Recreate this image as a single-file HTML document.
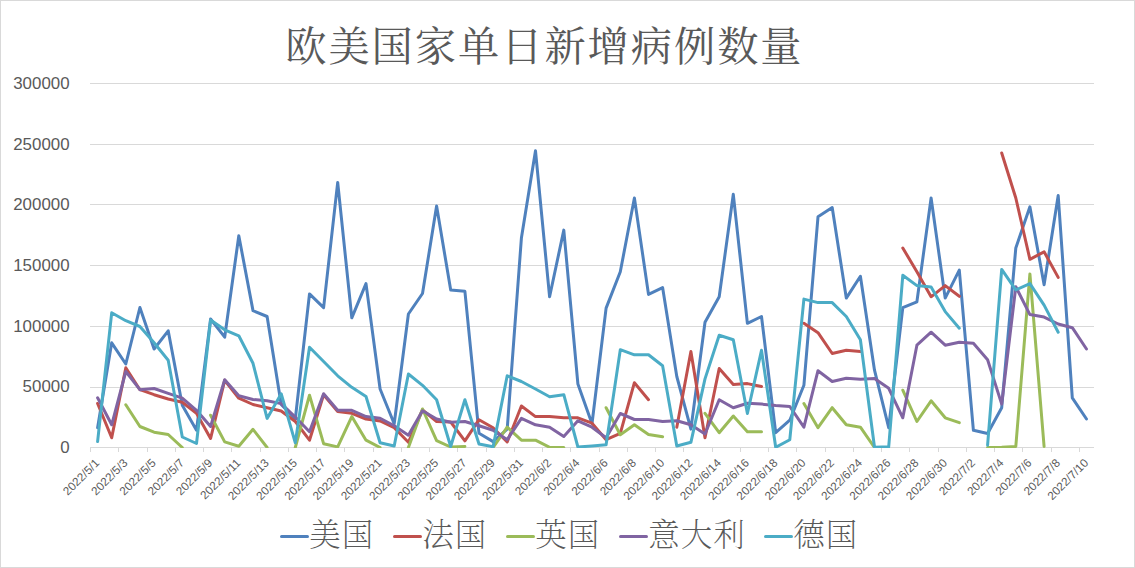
<!DOCTYPE html>
<html lang="zh-CN">
<head>
<meta charset="utf-8">
<title>欧美国家单日新增病例数量</title>
<style>
html,body{margin:0;padding:0;background:#fff;}
body{width:1135px;height:568px;overflow:hidden;}
.chart{position:relative;width:1133px;height:566px;border:1px solid #d9d9d9;background:#fff;}
svg{position:absolute;left:-1px;top:-1px;}
.title{font-family:"Liberation Serif","Noto Serif CJK SC",serif;font-size:41.3px;letter-spacing:1.9px;fill:#595959;font-weight:400;}
.leg{font-family:"Liberation Serif","Noto Serif CJK SC",serif;font-size:31.5px;letter-spacing:1px;fill:#595959;font-weight:200;}
.ylab{font-family:"Liberation Sans",sans-serif;font-size:16.9px;fill:#595959;}
.xlab{font-family:"Liberation Sans",sans-serif;font-size:11.75px;fill:#595959;}
.grid line{stroke:#d9d9d9;stroke-width:1;}
.series path{fill:none;stroke-width:3;stroke-linejoin:round;stroke-linecap:round;}
</style>
</head>
<body>
<div class="chart">
<svg width="1135" height="568" viewBox="0 0 1135 568">
<defs><clipPath id="plot"><rect x="88" y="60" width="1010" height="388"/></clipPath></defs>
<text class="title" x="544.4" y="61" text-anchor="middle">欧美国家单日新增病例数量</text>
<g class="grid">
<line x1="90" y1="83.5" x2="1094" y2="83.5"/>
<line x1="90" y1="144.5" x2="1094" y2="144.5"/>
<line x1="90" y1="204.5" x2="1094" y2="204.5"/>
<line x1="90" y1="265.5" x2="1094" y2="265.5"/>
<line x1="90" y1="326.5" x2="1094" y2="326.5"/>
<line x1="90" y1="387.5" x2="1094" y2="387.5"/>
<line x1="90" y1="447.5" x2="1094" y2="447.5"/>
<line x1="90.5" y1="447.0" x2="90.5" y2="452.0"/>
<line x1="118.5" y1="447.0" x2="118.5" y2="452.0"/>
<line x1="147.5" y1="447.0" x2="147.5" y2="452.0"/>
<line x1="175.5" y1="447.0" x2="175.5" y2="452.0"/>
<line x1="203.5" y1="447.0" x2="203.5" y2="452.0"/>
<line x1="231.5" y1="447.0" x2="231.5" y2="452.0"/>
<line x1="260.5" y1="447.0" x2="260.5" y2="452.0"/>
<line x1="288.5" y1="447.0" x2="288.5" y2="452.0"/>
<line x1="316.5" y1="447.0" x2="316.5" y2="452.0"/>
<line x1="344.5" y1="447.0" x2="344.5" y2="452.0"/>
<line x1="373.5" y1="447.0" x2="373.5" y2="452.0"/>
<line x1="401.5" y1="447.0" x2="401.5" y2="452.0"/>
<line x1="429.5" y1="447.0" x2="429.5" y2="452.0"/>
<line x1="457.5" y1="447.0" x2="457.5" y2="452.0"/>
<line x1="486.5" y1="447.0" x2="486.5" y2="452.0"/>
<line x1="514.5" y1="447.0" x2="514.5" y2="452.0"/>
<line x1="542.5" y1="447.0" x2="542.5" y2="452.0"/>
<line x1="570.5" y1="447.0" x2="570.5" y2="452.0"/>
<line x1="599.5" y1="447.0" x2="599.5" y2="452.0"/>
<line x1="627.5" y1="447.0" x2="627.5" y2="452.0"/>
<line x1="655.5" y1="447.0" x2="655.5" y2="452.0"/>
<line x1="683.5" y1="447.0" x2="683.5" y2="452.0"/>
<line x1="712.5" y1="447.0" x2="712.5" y2="452.0"/>
<line x1="740.5" y1="447.0" x2="740.5" y2="452.0"/>
<line x1="768.5" y1="447.0" x2="768.5" y2="452.0"/>
<line x1="796.5" y1="447.0" x2="796.5" y2="452.0"/>
<line x1="825.5" y1="447.0" x2="825.5" y2="452.0"/>
<line x1="853.5" y1="447.0" x2="853.5" y2="452.0"/>
<line x1="881.5" y1="447.0" x2="881.5" y2="452.0"/>
<line x1="909.5" y1="447.0" x2="909.5" y2="452.0"/>
<line x1="938.5" y1="447.0" x2="938.5" y2="452.0"/>
<line x1="966.5" y1="447.0" x2="966.5" y2="452.0"/>
<line x1="994.5" y1="447.0" x2="994.5" y2="452.0"/>
<line x1="1022.5" y1="447.0" x2="1022.5" y2="452.0"/>
<line x1="1051.5" y1="447.0" x2="1051.5" y2="452.0"/>
<line x1="1079.5" y1="447.0" x2="1079.5" y2="452.0"/>
</g>
<g class="ylab" text-anchor="end">
<text x="69.6" y="453.1">0</text>
<text x="69.6" y="392.4">50000</text>
<text x="69.6" y="331.8">100000</text>
<text x="69.6" y="271.1">150000</text>
<text x="69.6" y="210.4">200000</text>
<text x="69.6" y="149.8">250000</text>
<text x="69.6" y="89.1">300000</text>
</g>
<g class="xlab" text-anchor="end">
<text transform="translate(100.2 463.7) rotate(-45)">2022/5/1</text>
<text transform="translate(128.4 463.7) rotate(-45)">2022/5/3</text>
<text transform="translate(156.7 463.7) rotate(-45)">2022/5/5</text>
<text transform="translate(184.9 463.7) rotate(-45)">2022/5/7</text>
<text transform="translate(213.2 463.7) rotate(-45)">2022/5/9</text>
<text transform="translate(241.4 463.7) rotate(-45)">2022/5/11</text>
<text transform="translate(269.7 463.7) rotate(-45)">2022/5/13</text>
<text transform="translate(297.9 463.7) rotate(-45)">2022/5/15</text>
<text transform="translate(326.2 463.7) rotate(-45)">2022/5/17</text>
<text transform="translate(354.4 463.7) rotate(-45)">2022/5/19</text>
<text transform="translate(382.7 463.7) rotate(-45)">2022/5/21</text>
<text transform="translate(411.0 463.7) rotate(-45)">2022/5/23</text>
<text transform="translate(439.2 463.7) rotate(-45)">2022/5/25</text>
<text transform="translate(467.5 463.7) rotate(-45)">2022/5/27</text>
<text transform="translate(495.7 463.7) rotate(-45)">2022/5/29</text>
<text transform="translate(524.0 463.7) rotate(-45)">2022/5/31</text>
<text transform="translate(552.2 463.7) rotate(-45)">2022/6/2</text>
<text transform="translate(580.5 463.7) rotate(-45)">2022/6/4</text>
<text transform="translate(608.7 463.7) rotate(-45)">2022/6/6</text>
<text transform="translate(637.0 463.7) rotate(-45)">2022/6/8</text>
<text transform="translate(665.2 463.7) rotate(-45)">2022/6/10</text>
<text transform="translate(693.5 463.7) rotate(-45)">2022/6/12</text>
<text transform="translate(721.8 463.7) rotate(-45)">2022/6/14</text>
<text transform="translate(750.0 463.7) rotate(-45)">2022/6/16</text>
<text transform="translate(778.3 463.7) rotate(-45)">2022/6/18</text>
<text transform="translate(806.5 463.7) rotate(-45)">2022/6/20</text>
<text transform="translate(834.8 463.7) rotate(-45)">2022/6/22</text>
<text transform="translate(863.0 463.7) rotate(-45)">2022/6/24</text>
<text transform="translate(891.3 463.7) rotate(-45)">2022/6/26</text>
<text transform="translate(919.5 463.7) rotate(-45)">2022/6/28</text>
<text transform="translate(947.8 463.7) rotate(-45)">2022/6/30</text>
<text transform="translate(976.0 463.7) rotate(-45)">2022/7/2</text>
<text transform="translate(1004.3 463.7) rotate(-45)">2022/7/4</text>
<text transform="translate(1032.5 463.7) rotate(-45)">2022/7/6</text>
<text transform="translate(1060.8 463.7) rotate(-45)">2022/7/8</text>
<text transform="translate(1089.1 463.7) rotate(-45)">2022/7/10</text>
</g>
<g class="series" clip-path="url(#plot)">
<path stroke="#4f81bd" d="M97.6 427.7 L111.7 342.8 L125.8 364.0 L139.9 307.5 L154.1 349.0 L168.2 330.8 L182.3 405.3 L196.5 430.3 L210.6 319.0 L224.7 337.2 L238.8 235.8 L253.0 310.6 L267.1 316.5 L281.2 404.4 L295.3 419.0 L309.5 293.9 L323.6 307.6 L337.7 182.4 L351.8 317.8 L366.0 283.6 L380.1 389.0 L394.2 423.8 L408.4 314.0 L422.5 293.5 L436.6 206.0 L450.7 290.1 L464.9 291.3 L479.0 433.3 L493.1 441.6 L507.2 429.1 L521.4 238.1 L535.5 150.8 L549.6 296.8 L563.8 230.1 L577.9 384.0 L592.0 423.8 L606.1 308.1 L620.3 271.8 L634.4 198.0 L648.5 294.4 L662.6 287.6 L676.8 376.5 L690.9 429.1 L705.0 322.3 L719.2 296.8 L733.3 194.3 L747.4 323.3 L761.5 316.5 L775.7 432.7 L789.8 420.2 L803.9 385.3 L818.0 216.8 L832.2 207.6 L846.3 298.1 L860.4 276.3 L874.5 370.2 L888.7 427.7 L902.8 307.6 L916.9 301.8 L931.1 198.0 L945.2 298.1 L959.3 270.1 L973.4 430.3 L987.6 433.5 L1001.7 407.7 L1015.8 248.0 L1029.9 206.8 L1044.1 284.8 L1058.2 195.6 L1072.3 397.8 L1086.5 419.0"/>
<path stroke="#c0504d" d="M97.6 403.5 L111.7 437.8 L125.8 367.8 L139.9 389.7 L154.1 394.7 L168.2 399.0 L182.3 402.2 L196.5 413.3 L210.6 438.5 L224.7 380.3 L238.8 398.2 L253.0 404.5 L267.1 407.7 L281.2 411.0 L295.3 421.5 L309.5 440.2 L323.6 394.7 L337.7 411.5 L351.8 413.3 L366.0 419.0 L380.1 421.0 L394.2 427.7 L408.4 442.3 L422.5 409.8 L436.6 421.5 L450.7 422.0 L464.9 440.9 L479.0 419.7 L493.1 427.7 L507.2 442.0 L521.4 406.0 L535.5 416.6 L549.6 416.6 L563.8 417.8 L577.9 417.8 L592.0 423.2 L606.1 439.7 L620.3 433.3 L634.4 382.7 L648.5 399.7 M676.8 427.2 L690.9 351.5 L705.0 437.8 L719.2 368.5 L733.3 384.5 L747.4 383.6 L761.5 386.5 M803.9 323.3 L818.0 332.7 L832.2 353.5 L846.3 350.3 L860.4 351.5 M902.8 248.0 L916.9 271.8 L931.1 296.8 L945.2 285.6 L959.3 296.3 M1001.7 153.0 L1015.8 198.0 L1029.9 259.3 L1044.1 251.8 L1058.2 277.4"/>
<path stroke="#9bbb59" d="M125.8 404.8 L139.9 426.5 L154.1 432.2 L168.2 434.5 L182.3 447.5 M210.6 415.2 L224.7 441.9 L238.8 446.2 L253.0 429.3 L267.1 447.5 M295.3 447.5 L309.5 395.2 L323.6 443.7 L337.7 446.9 L351.8 416.6 L366.0 440.2 L380.1 447.5 M408.4 447.5 L422.5 409.0 L436.6 440.7 L450.7 447.0 L464.9 446.5 M493.1 447.5 L507.2 427.2 L521.4 440.2 L535.5 440.2 L549.6 447.3 L563.8 447.5 M606.1 407.7 L620.3 434.8 L634.4 424.8 L648.5 434.5 L662.6 436.7 M705.0 413.3 L719.2 432.7 L733.3 416.0 L747.4 431.7 L761.5 431.7 M803.9 403.5 L818.0 427.7 L832.2 407.7 L846.3 424.8 L860.4 427.2 L874.5 447.5 M902.8 390.2 L916.9 421.5 L931.1 400.8 L945.2 417.8 L959.3 422.7 M987.6 447.5 L1001.7 447.3 L1015.8 446.5 L1029.9 273.9 L1044.1 446.5"/>
<path stroke="#8064a2" d="M97.6 397.8 L111.7 424.8 L125.8 371.5 L139.9 389.7 L154.1 388.5 L168.2 393.3 L182.3 398.2 L196.5 410.3 L210.6 426.5 L224.7 379.8 L238.8 395.8 L253.0 399.5 L267.1 400.8 L281.2 403.6 L295.3 417.0 L309.5 431.7 L323.6 393.7 L337.7 410.3 L351.8 410.3 L366.0 416.6 L380.1 418.3 L394.2 425.8 L408.4 435.2 L422.5 410.7 L436.6 419.0 L450.7 422.3 L464.9 421.5 L479.0 425.8 L493.1 430.3 L507.2 439.7 L521.4 418.3 L535.5 424.8 L549.6 427.2 L563.8 436.5 L577.9 420.8 L592.0 427.2 L606.1 437.8 L620.3 413.5 L634.4 419.5 L648.5 419.5 L662.6 421.5 L676.8 420.8 L690.9 424.8 L705.0 434.0 L719.2 399.7 L733.3 407.7 L747.4 403.2 L761.5 404.1 L775.7 405.5 L789.8 406.5 L803.9 427.2 L818.0 370.7 L832.2 381.5 L846.3 378.2 L860.4 379.3 L874.5 378.5 L888.7 388.3 L902.8 417.8 L916.9 345.2 L931.1 332.2 L945.2 345.2 L959.3 342.3 L973.4 343.3 L987.6 359.8 L1001.7 404.1 L1015.8 286.7 L1029.9 314.6 L1044.1 317.1 L1058.2 324.0 L1072.3 327.7 L1086.5 349.0"/>
<path stroke="#4bacc6" d="M97.6 441.6 L111.7 312.8 L125.8 320.7 L139.9 326.5 L154.1 342.8 L168.2 360.3 L182.3 437.0 L196.5 443.5 L210.6 320.1 L224.7 329.8 L238.8 335.8 L253.0 363.3 L267.1 418.4 L281.2 393.7 L295.3 442.8 L309.5 347.3 L323.6 361.5 L337.7 375.8 L351.8 387.3 L366.0 396.5 L380.1 442.8 L394.2 446.0 L408.4 374.0 L422.5 385.3 L436.6 399.7 L450.7 446.5 L464.9 399.7 L479.0 444.0 L493.1 446.8 L507.2 375.8 L521.4 381.5 L535.5 389.0 L549.6 396.8 L563.8 394.7 L577.9 447.0 L592.0 446.0 L606.1 444.7 L620.3 349.7 L634.4 354.8 L648.5 354.8 L662.6 365.7 L676.8 446.0 L690.9 442.3 L705.0 378.9 L719.2 335.3 L733.3 339.8 L747.4 413.5 L761.5 350.3 L775.7 447.3 L789.8 439.7 L803.9 299.1 L818.0 302.6 L832.2 302.6 L846.3 316.5 L860.4 339.8 L874.5 447.3 L888.7 446.8 L902.8 275.3 L916.9 285.6 L931.1 286.9 L945.2 311.6 L959.3 328.2 M987.6 445.2 L1001.7 269.4 L1015.8 289.9 L1029.9 283.6 L1044.1 305.1 L1058.2 332.2"/>
</g>
<g class="series">
<path stroke="#4f81bd" d="M281.5 536.5 L307.5 536.5"/>
<path stroke="#c0504d" d="M394.5 536.5 L420.5 536.5"/>
<path stroke="#9bbb59" d="M507.5 536.5 L533.5 536.5"/>
<path stroke="#8064a2" d="M620.5 536.5 L646.5 536.5"/>
<path stroke="#4bacc6" d="M765.5 536.5 L791.5 536.5"/>
</g>
<text class="leg" x="309.3" y="546.3">美国</text>
<text class="leg" x="422.3" y="546.3">法国</text>
<text class="leg" x="535.3" y="546.3">英国</text>
<text class="leg" x="648.3" y="546.3">意大利</text>
<text class="leg" x="793.3" y="546.3">德国</text>
</svg>
</div>
</body>
</html>
